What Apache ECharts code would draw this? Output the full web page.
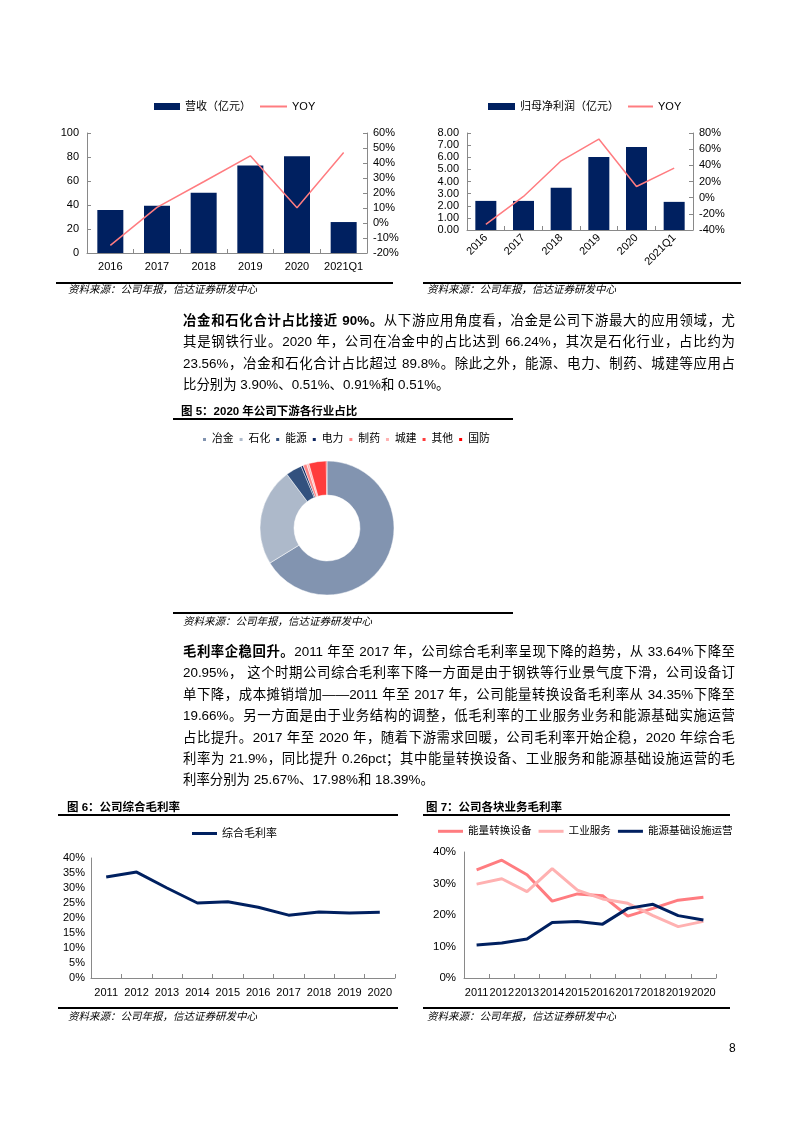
<!DOCTYPE html>
<html><head><meta charset="utf-8">
<script src="https://cdn.jsdelivr.net/npm/echarts@6/dist/echarts.min.js"></script>
<style>
html,body{margin:0;padding:0;background:#fff;}
#page{position:relative;width:793px;height:1122px;overflow:hidden;font-family:"Liberation Sans","Noto Sans CJK SC",sans-serif;color:#000;}
#chart{position:absolute;left:0;top:0;width:793px;height:1122px;}
.ln{position:absolute;left:183px;width:552px;font-size:13.4px;line-height:20px;height:20px;white-space:nowrap;text-align:justify;text-align-last:justify;}
.ln.last{text-align:left;text-align-last:left;}
.b{font-weight:bold;}
.ttl{position:absolute;font-size:11.5px;font-weight:bold;line-height:14px;white-space:nowrap;}
.rule{position:absolute;height:2px;background:#000;}
.src{position:absolute;font-size:10.5px;font-style:italic;line-height:12px;white-space:nowrap;}
.pg{position:absolute;left:729px;top:1041px;font-size:12px;}
</style></head>
<body><div id="page">
<div id="chart"></div>

<div class="rule" style="left:56px;top:282px;width:337px;"></div>
<div class="src" style="left:68px;top:283px;">资料来源：公司年报，信达证券研发中心</div>
<div class="rule" style="left:423px;top:282px;width:318px;"></div>
<div class="src" style="left:427px;top:283px;">资料来源：公司年报，信达证券研发中心</div>

<div class="ln" style="top:311px;"><span class="b">冶金和石化合计占比接近 90%。</span>从下游应用角度看，冶金是公司下游最大的应用领域，尤</div>
<div class="ln" style="top:332px;">其是钢铁行业。2020 年，公司在冶金中的占比达到 66.24%，其次是石化行业，占比约为</div>
<div class="ln" style="top:354px;">23.56%，冶金和石化合计占比超过 89.8%。除此之外，能源、电力、制药、城建等应用占</div>
<div class="ln last" style="top:375px;">比分别为 3.90%、0.51%、0.91%和 0.51%。</div>

<div class="ttl" style="left:181px;top:404px;">图 5：2020 年公司下游各行业占比</div>
<div class="rule" style="left:173px;top:418px;width:340px;"></div>
<div class="rule" style="left:173px;top:612px;width:340px;"></div>
<div class="src" style="left:183px;top:615px;">资料来源：公司年报，信达证券研发中心</div>

<div class="ln" style="top:642px;"><span class="b">毛利率企稳回升。</span>2011 年至 2017 年，公司综合毛利率呈现下降的趋势，从 33.64%下降至</div>
<div class="ln" style="top:663px;">20.95%， 这个时期公司综合毛利率下降一方面是由于钢铁等行业景气度下滑，公司设备订</div>
<div class="ln" style="top:685px;">单下降，成本摊销增加——2011 年至 2017 年，公司能量转换设备毛利率从 34.35%下降至</div>
<div class="ln" style="top:706px;">19.66%。另一方面是由于业务结构的调整，低毛利率的工业服务业务和能源基础实施运营</div>
<div class="ln" style="top:728px;">占比提升。2017 年至 2020 年，随着下游需求回暖，公司毛利率开始企稳，2020 年综合毛</div>
<div class="ln" style="top:749px;">利率为 21.9%，同比提升 0.26pct；其中能量转换设备、工业服务和能源基础设施运营的毛</div>
<div class="ln last" style="top:770px;">利率分别为 25.67%、17.98%和 18.39%。</div>

<div class="ttl" style="left:67px;top:800px;">图 6：公司综合毛利率</div>
<div class="rule" style="left:58px;top:814px;width:340px;"></div>
<div class="rule" style="left:58px;top:1007px;width:340px;"></div>
<div class="src" style="left:68px;top:1010px;">资料来源：公司年报，信达证券研发中心</div>

<div class="ttl" style="left:426px;top:800px;">图 7：公司各块业务毛利率</div>
<div class="rule" style="left:423px;top:814px;width:307px;"></div>
<div class="rule" style="left:423px;top:1007px;width:307px;"></div>
<div class="src" style="left:427px;top:1010px;">资料来源：公司年报，信达证券研发中心</div>

<div class="pg">8</div>
</div>
<script>
// ---- data ----
const revCats = ['2016','2017','2018','2019','2020','2021Q1'];
const revenue = [35.8, 39.4, 50.2, 72.9, 80.6, 25.8];
const revYoy = [-14.9, 10.4, 27.5, 44.8, 10.2, 47.0];
const profitCats = ['2016','2017','2018','2019','2020','2021Q1'];
const profit = [2.40, 2.40, 3.48, 6.03, 6.84, 2.32];
const profitYoy = [-33.0, 1.5, 45.6, 72.5, 13.8, 36.5];
const pieNames = ['冶金','石化','能源','电力','制药','城建','其他','国防'];
const pieValues = [66.24, 23.56, 3.90, 0.51, 0.91, 0.51, 4.20, 0.17];
const years = ['2011','2012','2013','2014','2015','2016','2017','2018','2019','2020'];
const grossMargin = [33.64, 35.3, 30.0, 25.0, 25.4, 23.6, 20.95, 22.0, 21.64, 21.9];
const segEnergyEquip = [34.35, 37.4, 32.8, 24.4, 26.7, 26.1, 19.66, 22.1, 24.7, 25.67];
const segIndService = [29.8, 31.5, 27.4, 34.7, 27.9, 25.1, 23.7, 19.8, 16.3, 17.98];
const segInfraOps = [10.5, 11.1, 12.4, 17.6, 17.9, 17.1, 22.1, 23.4, 19.8, 18.39];
// tick labels
const revLeftTicks = {min:0, max:100, interval:20};
const revRightTicks = {min:-20, max:60, interval:10};
const profLeftTicks = {min:0, max:8, interval:1};
const profRightTicks = {min:-40, max:80, interval:20};
const marginTicks = {min:0, max:40, interval:5};
const segTicks = {min:0, max:40, interval:10};

const NAVY = '#002060', SALMON = '#FF7C80', PINK = '#FFB1B1';
const pieColors = ['#8294B0','#ADB9CA','#33517E','#0D2560','#FF8585','#FFB3B3','#FF3C3C','#FF0000'];
const FONT = '"Liberation Sans","Noto Sans CJK SC",sans-serif';
const axisLine = {show:true, lineStyle:{color:'#898989', width:1}};
const lbl = (extra) => Object.assign({color:'#000', fontSize:11, fontFamily:FONT}, extra||{});
const tick = {show:true, inside:true, length:4, lineStyle:{color:'#898989'}};

const chart = echarts.init(document.getElementById('chart'), null, {renderer:'canvas'});
chart.setOption({
  animation:false,
  textStyle:{fontFamily:FONT},
  grid:[
    {left:87, top:133, width:280, height:120},
    {left:467, top:133, width:226, height:97},
    {left:91, top:858, width:304, height:120},
    {left:464, top:852, width:252, height:126}
  ],
  legend:[
    {left:154, top:101, padding:0, itemWidth:26, itemHeight:7, textStyle:lbl(),
     data:[{name:'营收（亿元）', icon:'rect'}]},
    {left:260, top:101, padding:0, itemWidth:27, itemHeight:2, textStyle:lbl(),
     data:[{name:'YOY', icon:'rect'}]},
    {left:488, top:101, padding:0, itemWidth:27, itemHeight:7, textStyle:lbl(),
     data:[{name:'归母净利润（亿元）', icon:'rect'}]},
    {left:628, top:101, padding:0, itemWidth:25, itemHeight:2, textStyle:lbl(),
     data:[{name:'YOY ', icon:'rect'}]},
    {left:201, top:434, padding:0, itemGap:4, itemWidth:5, itemHeight:5, textStyle:lbl({fontSize:10.8}),
     data:pieNames.map(n=>({name:n, icon:'rect'}))},
    {left:192, top:828, padding:0, itemWidth:25, itemHeight:3, textStyle:lbl(), data:[{name:'综合毛利率', icon:'rect'}]},
    {left:438, top:826, padding:0, itemGap:7, itemWidth:25, itemHeight:3, textStyle:lbl({fontSize:10.6}),
     data:[{name:'能量转换设备', icon:'rect'},{name:'工业服务', icon:'rect'},{name:'能源基础设施运营', icon:'rect'}]}
  ],
  xAxis:[
    {type:'category', gridIndex:0, data:revCats, axisLine, axisTick:tick, axisLabel:lbl({margin:8, interval:0})},
    {type:'category', gridIndex:1, data:profitCats, axisLine, axisTick:tick, axisLabel:lbl({rotate:45, margin:6, interval:0})},
    {type:'category', gridIndex:2, data:years, axisLine, axisTick:tick, axisLabel:lbl({margin:9, interval:0})},
    {type:'category', gridIndex:3, data:years, axisLine, axisTick:tick, axisLabel:lbl({margin:9, interval:0, fontSize:11})}
  ],
  yAxis:[
    Object.assign({type:'value', gridIndex:0, position:'left', axisLine, axisTick:tick, splitLine:{show:false}, axisLabel:lbl({margin:8})}, revLeftTicks),
    Object.assign({type:'value', gridIndex:0, position:'right', axisLine, axisTick:tick, splitLine:{show:false}, axisLabel:lbl({margin:6, formatter:'{value}%'})}, revRightTicks),
    Object.assign({type:'value', gridIndex:1, position:'left', axisLine, axisTick:tick, splitLine:{show:false}, axisLabel:lbl({margin:8, formatter:v=>v.toFixed(2)})}, profLeftTicks),
    Object.assign({type:'value', gridIndex:1, position:'right', axisLine, axisTick:tick, splitLine:{show:false}, axisLabel:lbl({margin:6, formatter:'{value}%'})}, profRightTicks),
    Object.assign({type:'value', gridIndex:2, axisLine, axisTick:{show:false}, splitLine:{show:false}, axisLabel:lbl({margin:6, formatter:'{value}%'})}, marginTicks),
    Object.assign({type:'value', gridIndex:3, axisLine, axisTick:{show:false}, splitLine:{show:false}, axisLabel:lbl({margin:8, formatter:'{value}%', fontSize:11.5})}, segTicks)
  ],
  series:[
    {name:'营收（亿元）', type:'bar', xAxisIndex:0, yAxisIndex:0, data:revenue, barWidth:26, itemStyle:{color:NAVY}},
    {name:'YOY', type:'line', xAxisIndex:0, yAxisIndex:1, data:revYoy, symbol:'none', lineStyle:{color:SALMON, width:1.5}, itemStyle:{color:SALMON}},
    {name:'归母净利润（亿元）', type:'bar', xAxisIndex:1, yAxisIndex:2, data:profit, barWidth:21, itemStyle:{color:NAVY}},
    {name:'YOY ', type:'line', xAxisIndex:1, yAxisIndex:3, data:profitYoy, symbol:'none', lineStyle:{color:SALMON, width:1.5}, itemStyle:{color:SALMON}},
    {type:'pie', center:[327,528], radius:[33,67], startAngle:90, clockwise:true, label:{show:false}, labelLine:{show:false},
     itemStyle:{borderColor:'#fff', borderWidth:0.5},
     data:pieNames.map((n,i)=>({name:n, value:pieValues[i], itemStyle:{color:pieColors[i]}}))},
    {name:'综合毛利率', type:'line', xAxisIndex:2, yAxisIndex:4, data:grossMargin, symbol:'none', lineStyle:{color:NAVY, width:3}, itemStyle:{color:NAVY}},
    {name:'能量转换设备', type:'line', xAxisIndex:3, yAxisIndex:5, data:segEnergyEquip, symbol:'none', lineStyle:{color:SALMON, width:3}, itemStyle:{color:SALMON}},
    {name:'工业服务', type:'line', xAxisIndex:3, yAxisIndex:5, data:segIndService, symbol:'none', lineStyle:{color:PINK, width:3}, itemStyle:{color:PINK}},
    {name:'能源基础设施运营', type:'line', xAxisIndex:3, yAxisIndex:5, data:segInfraOps, symbol:'none', lineStyle:{color:NAVY, width:3}, itemStyle:{color:NAVY}}
  ]
});
</script>
</body></html>
